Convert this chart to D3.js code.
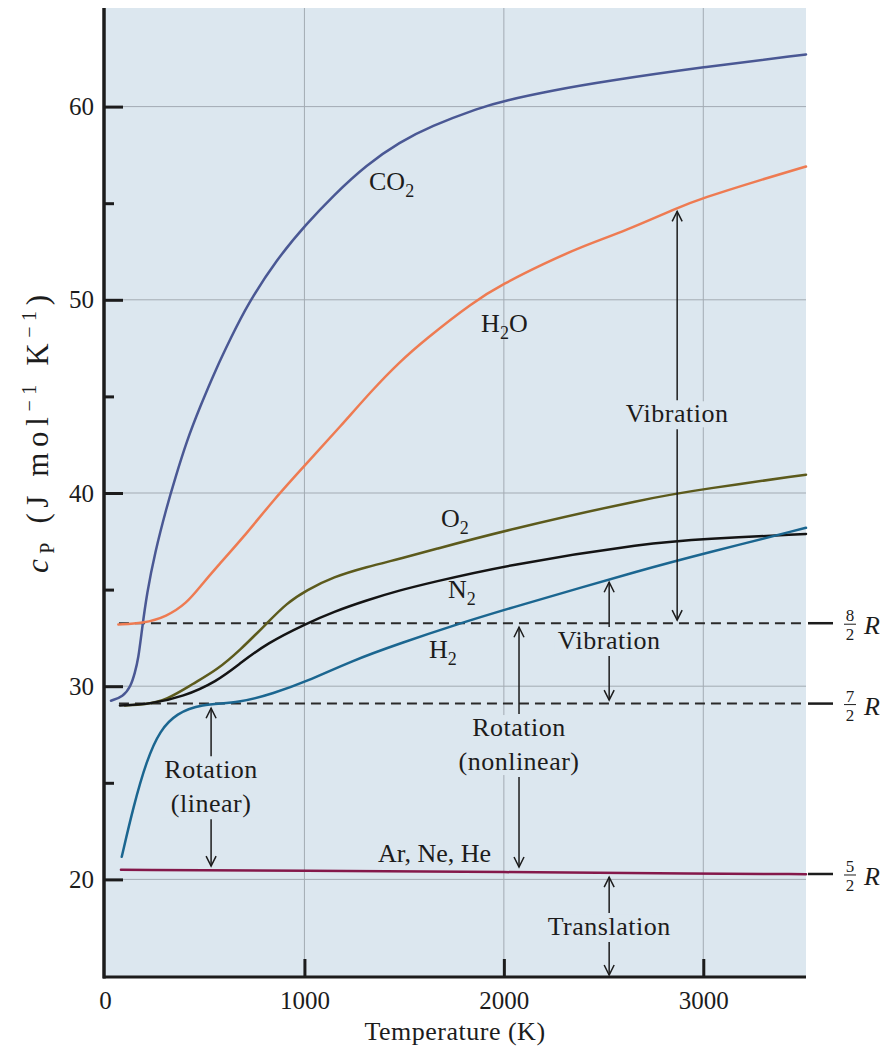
<!DOCTYPE html>
<html><head><meta charset="utf-8">
<script src="https://cdn.jsdelivr.net/npm/d3@7"></script>
<style>
body{margin:0;background:#fff}
svg text{font-family:"Liberation Serif","Times New Roman",serif;fill:#1c1c1c}
</style>
</head><body>
<svg id="chart" width="894" height="1052"></svg>
<script>
// ---- data (T in K, cp in J mol^-1 K^-1) ----
const co2 = [[30,29.25],[90,29.45],[130,30.0],[150,30.7],[167,31.4],[185,32.9],[210,34.8],[250,36.9],[310,39.3],[350,40.7],[410,42.7],[476,44.45],[560,46.5],[630,48.0],[711,49.7],[861,52.1],[1011,53.94],[1145,55.4],[1312,57.0],[1479,58.17],[1630,58.97],[1880,59.95],[2000,60.3],[2250,60.85],[2500,61.3],[3000,62.05],[3515,62.7]];
const h2o = [[67,33.2],[190,33.25],[309,33.6],[410,34.3],[476,35.14],[560,36.17],[694,37.7],[844,39.63],[1011,41.53],[1179,43.43],[1346,45.4],[1479,46.8],[1600,47.9],[1847,49.9],[1998,50.83],[2198,51.86],[2382,52.72],[2616,53.6],[2867,54.75],[2992,55.25],[3285,56.2],[3515,56.9]];
const o2 = [[100,29.0],[200,29.05],[309,29.28],[443,30.14],[560,30.83],[677,31.86],[811,33.25],[911,34.3],[1011,34.97],[1145,35.66],[1312,36.17],[1479,36.6],[1630,37.02],[2006,38.07],[2733,39.76],[3000,40.2],[3515,40.95]];
const n2 = [[75,29.0],[226,29.07],[393,29.46],[560,30.24],[677,31.18],[811,32.22],[1011,33.25],[1145,33.85],[1312,34.45],[1479,34.97],[1630,35.35],[2006,36.26],[2733,37.43],[3000,37.62],[3515,37.88]];
const h2 = [[84,21.17],[142,23.76],[209,26.17],[276,27.73],[360,28.59],[476,29.07],[677,29.14],[844,29.63],[1011,30.24],[1229,31.28],[1479,32.22],[1780,33.25],[2006,33.97],[2733,36.14],[3000,36.85],[3515,38.2]];
const ar = [[80,20.5],[1000,20.45],[2000,20.38],[3000,20.3],[3515,20.27]];

const yMajorTicks = [20,30,40,50,60];
const yMinorTicks = [25,35,45,55];
const xTicks = [0,1000,2000,3000];

// reference levels (n/2 R)
const refNum = ["8","7","5"];
const refCp = [33.26, 29.1, 20.28];
const refDashed = [true, true, false];

// series labels: main text, subscript, trailing text, T, cp
const labelText = ["CO","H","O","N","H","Ar, Ne, He"];
const labelSub = ["2","2","2","2","2",""];
const labelTail = ["","O","","","",""];
const labelT = [1324,1886,1685,1720,1625,1369];
const labelCp = [55.66,48.32,38.23,34.56,31.45,20.9];

// annotations: text lines, T, baseline cp, arrow tip above, arrow tip below
const annotations = [
  {lines:["Rotation","(linear)"], T:532, base:25.24, top:28.86, bottom:20.69},
  {lines:["Rotation","(nonlinear)"], T:2076, base:27.42, top:33.05, bottom:20.64},
  {lines:["Vibration"], T:2528, base:31.92, top:35.38, bottom:29.28},
  {lines:["Vibration"], T:2869, base:43.66, top:54.58, bottom:33.42},
  {lines:["Translation"], T:2528, base:17.12, top:20.12, bottom:15.05}
];

const seriesData = [co2,h2o,o2,n2,h2,ar];
const seriesColor = ["#4a5894","#ee7b52","#5c5a1c","#141414","#1b6690","#84184a"];

// ---- drawing ----
const svg = d3.select("#chart");
const L = 103, R = 806, T0 = 8, B = 977;
const x = d3.scaleLinear().domain([-10,3515]).range([L,R]);
const y = d3.scaleLinear().domain([15,65]).range([976,10]);
const bg = "#dce7ef";

svg.append("rect").attr("x",L).attr("y",T0).attr("width",R-L).attr("height",B-T0).attr("fill",bg);

const gGrid = svg.append("g");
const gAnnBg = svg.append("g");
const gRef = svg.append("g");
const gLines = svg.append("g");
const gAnn = svg.append("g");
const gAxes = svg.append("g");

// grid
gGrid.selectAll(".gy").data(yMajorTicks).join("line")
  .attr("x1",L).attr("x2",R).attr("y1",d=>y(d)).attr("y2",d=>y(d))
  .attr("stroke","#a3abb3").attr("stroke-width",1);
gGrid.selectAll(".gx").data(xTicks.filter(d=>d>0)).join("line")
  .attr("x1",d=>x(d)).attr("x2",d=>x(d)).attr("y1",T0).attr("y2",B)
  .attr("stroke","#a3abb3").attr("stroke-width",1);

// reference dashed lines and n/2 R marks
refCp.forEach((c,i)=>{
  if(refDashed[i]){
    gRef.append("line").attr("x1",x(70)).attr("x2",R).attr("y1",y(c)).attr("y2",y(c))
      .attr("stroke","#2a2a2a").attr("stroke-width",2).attr("stroke-dasharray","10,6");
  }
  const yy = y(c);
  gAxes.append("line").attr("x1",808).attr("x2",833).attr("y1",yy).attr("y2",yy)
    .attr("stroke","#1c1c1c").attr("stroke-width",2.5);
  gAxes.append("text").attr("x",850).attr("y",yy-2).attr("text-anchor","middle")
    .attr("font-size",17).text(refNum[i]);
  gAxes.append("line").attr("x1",844).attr("x2",856).attr("y1",yy+1).attr("y2",yy+1)
    .attr("stroke","#1c1c1c").attr("stroke-width",1);
  gAxes.append("text").attr("x",850).attr("y",yy+17).attr("text-anchor","middle")
    .attr("font-size",17).text("2");
  gAxes.append("text").attr("x",864).attr("y",yy+11).attr("font-size",26)
    .attr("font-style","italic").text("R");
});

// curves
const line = d3.line().x(d=>x(d[0])).y(d=>y(d[1])).curve(d3.curveBasis);
seriesData.forEach((s,i)=>{
  gLines.append("path").attr("d",line(s)).attr("fill","none")
    .attr("stroke",seriesColor[i]).attr("stroke-width",2.5).attr("stroke-linecap","round");
});

// series labels
labelText.forEach((t,i)=>{
  const tx = gLines.append("text").attr("x",x(labelT[i])).attr("y",y(labelCp[i]))
    .attr("font-size",26);
  tx.append("tspan").text(t);
  if(labelSub[i]){
    tx.append("tspan").attr("font-size",18).attr("dy",7).text(labelSub[i]);
    if(labelTail[i]) tx.append("tspan").attr("dy",-7).text(labelTail[i]);
  }
});

// annotations with arrows
function arrowHead(g, xx, yy, dir){
  g.append("path").attr("d",`M${xx-5},${yy+dir*10}L${xx},${yy}L${xx+5},${yy+dir*10}`)
    .attr("fill","none").attr("stroke","#1c1c1c").attr("stroke-width",1.5);
}
annotations.forEach(a=>{
  const xx = x(a.T);
  const t = gAnn.append("text").attr("text-anchor","middle").attr("font-size",26)
    .attr("letter-spacing",0.5);
  a.lines.forEach((ln,k)=>{
    t.append("tspan").attr("x",xx).attr("y",y(a.base)+k*34).text(ln);
  });
  const bb = t.node().getBBox();
  gAnnBg.append("rect").attr("x",bb.x-3).attr("y",bb.y+2).attr("width",bb.width+6)
    .attr("height",bb.height-3).attr("fill",bg);
  const ytop = bb.y+1, ybot = bb.y+bb.height+1;
  gAnn.append("line").attr("x1",xx).attr("x2",xx).attr("y1",ytop).attr("y2",y(a.top))
    .attr("stroke","#1c1c1c").attr("stroke-width",1.5);
  arrowHead(gAnn, xx, y(a.top), 1);
  gAnn.append("line").attr("x1",xx).attr("x2",xx).attr("y1",ybot).attr("y2",y(a.bottom))
    .attr("stroke","#1c1c1c").attr("stroke-width",1.5);
  arrowHead(gAnn, xx, y(a.bottom), -1);
});

// axes
const yAxis = d3.axisLeft(y).tickValues(yMajorTicks).tickSizeInner(-19).tickSizeOuter(0)
  .tickPadding(10).tickFormat(d3.format("d"));
const yg = gAxes.append("g").attr("transform",`translate(${L+1},0)`).call(yAxis);
yg.select(".domain").remove();
yg.selectAll(".tick line").attr("stroke","#1c1c1c").attr("stroke-width",3);
yg.selectAll(".tick text").attr("font-size",25).attr("fill","#1c1c1c")
  .attr("font-family","Liberation Serif, serif");
const yMinor = d3.axisLeft(y).tickValues(yMinorTicks).tickSizeInner(-10).tickSizeOuter(0).tickFormat("");
const ym = gAxes.append("g").attr("transform",`translate(${L+1},0)`).call(yMinor);
ym.select(".domain").remove();
ym.selectAll(".tick line").attr("stroke","#1c1c1c").attr("stroke-width",3);

const xAxis = d3.axisBottom(x).tickValues(xTicks).tickSizeInner(-18).tickSizeOuter(0)
  .tickPadding(14).tickFormat(d3.format("d"));
const xg = gAxes.append("g").attr("transform",`translate(0,${B})`).call(xAxis);
xg.select(".domain").remove();
xg.selectAll(".tick line").attr("stroke","#1c1c1c").attr("stroke-width",3)
  .attr("opacity",d=>d===0?0:1);
xg.selectAll(".tick text").attr("font-size",25).attr("fill","#1c1c1c")
  .attr("font-family","Liberation Serif, serif");

// spines
gAxes.append("line").attr("x1",L+1).attr("x2",L+1).attr("y1",T0).attr("y2",B+1.5)
  .attr("stroke","#1c1c1c").attr("stroke-width",3.5);
gAxes.append("line").attr("x1",L).attr("x2",R).attr("y1",B).attr("y2",B)
  .attr("stroke","#1c1c1c").attr("stroke-width",3);

// axis titles
svg.append("text").attr("x",455).attr("y",1040).attr("text-anchor","middle")
  .attr("font-size",26).attr("letter-spacing",0.5).text("Temperature (K)");
const yt = svg.append("text").attr("transform","translate(48,434) rotate(-90)")
  .attr("text-anchor","middle").attr("font-size",31)
  .attr("textLength",278).attr("lengthAdjust","spacing");
yt.append("tspan").attr("font-style","italic").text("c");
yt.append("tspan").attr("font-size",20).attr("dy",6).text("P");
yt.append("tspan").attr("dy",-6).text(" (J mol");
yt.append("tspan").attr("font-size",20).attr("dy",-12).text("−1");
yt.append("tspan").attr("dy",12).text(" K");
yt.append("tspan").attr("font-size",20).attr("dy",-12).text("−1");
yt.append("tspan").attr("dy",12).text(")");
</script>
</body></html>
